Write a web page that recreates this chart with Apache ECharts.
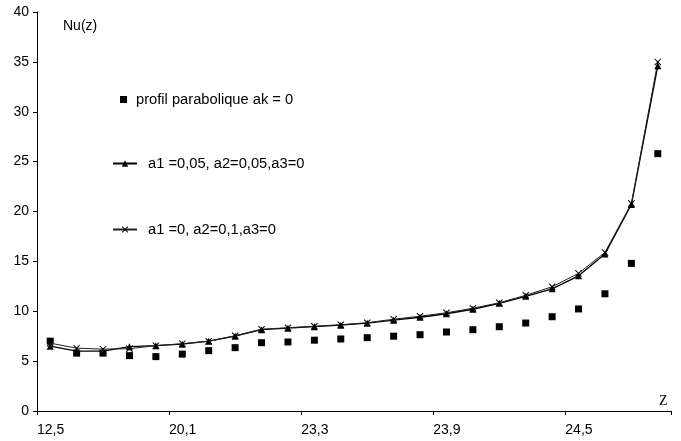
<!DOCTYPE html>
<html>
<head>
<meta charset="utf-8">
<script src="https://cdn.jsdelivr.net/npm/echarts@6/dist/echarts.min.js"></script>
<style>html,body{margin:0;padding:0;background:#fff;}#c{width:681px;height:441px;}</style>
</head>
<body>
<div id="c"></div>
<script>
// tick labels shown every 5 categories on the Z axis
var zTickLabels = ['12,5', '20,1', '23,3', '23,9', '24,5'];
var categories = ['12,5','','','','','20,1','','','','','23,3','','','','','23,9','','','','','24,5','','',''];

var seriesNames = ['profil parabolique ak = 0', 'a1 =0,05, a2=0,05,a3=0', 'a1 =0, a2=0,1,a3=0'];

var parabolic = [7.0, 5.8, 5.8, 5.55, 5.45, 5.7, 6.05, 6.35, 6.85, 6.92, 7.1, 7.22,
                 7.35, 7.5, 7.65, 7.92, 8.15, 8.45, 8.82, 9.45, 10.23, 11.75, 14.8, 25.8];
var triangleSeries = [6.5, 6.0, 6.0, 6.45, 6.55, 6.7, 7.0, 7.5, 8.15, 8.3, 8.45, 8.6,
                      8.8, 9.1, 9.4, 9.75, 10.2, 10.8, 11.5, 12.25, 13.55, 15.75, 20.7, 34.6];
var crossSeries = [6.8, 6.3, 6.2, 6.25, 6.55, 6.75, 7.0, 7.55, 8.2, 8.35, 8.5, 8.65,
                   8.85, 9.2, 9.5, 9.85, 10.3, 10.85, 11.6, 12.45, 13.8, 15.9, 20.8, 35.0];

var yTicks = {min: 0, max: 40, interval: 5};

var crossPath = 'path://M0,1L1,0L5,4L9,0L10,1L6,5L10,9L9,10L5,6L1,10L0,9L4,5Z';
var FONT = 'Liberation Sans';
var LEG_FS = 14.7;

var chart = echarts.init(document.getElementById('c'));
chart.setOption({
  animation: false,
  backgroundColor: '#fff',
  textStyle: {fontFamily: FONT, color: '#000'},
  grid: {left: 37, right: 10, top: 12, bottom: 30},
  legend: [
    {data: [seriesNames[0]], left: 120, top: 92, padding: 0, orient: 'vertical', icon: 'rect', itemWidth: 7, itemHeight: 7,
     textStyle: {fontFamily: FONT, fontSize: LEG_FS, color: '#000', padding: [0, 0, 0, 4]}},
    {data: [seriesNames[1]], left: 112, top: 156, padding: 0, orient: 'vertical', itemWidth: 24, itemHeight: 8,
     textStyle: {fontFamily: FONT, fontSize: LEG_FS, color: '#000', padding: [0, 0, 0, 6]}},
    {data: [seriesNames[2]], left: 112, top: 222, padding: 0, orient: 'vertical', itemWidth: 24, itemHeight: 8,
     textStyle: {fontFamily: FONT, fontSize: LEG_FS, color: '#000', padding: [0, 0, 0, 6]}}
  ],
  xAxis: [
    {type: 'category', data: categories, boundaryGap: true,
     axisLine: {lineStyle: {color: '#000', width: 1}},
     axisTick: {show: true, interval: 4, length: 4, lineStyle: {color: '#000'}},
     axisLabel: {show: false}, splitLine: {show: false}},
    {type: 'value', min: 0, max: categories.length, interval: 5, position: 'bottom',
     axisLine: {show: false}, axisTick: {show: false}, splitLine: {show: false},
     axisLabel: {show: true, align: 'left', margin: 12, fontSize: 14, color: '#000', fontFamily: FONT,
       formatter: function (v) { var i = v / 5; return zTickLabels[i] !== undefined && Number.isInteger(i) ? zTickLabels[i] : ''; }}}
  ],
  yAxis: {type: 'value', min: yTicks.min, max: yTicks.max, interval: yTicks.interval,
    axisLine: {show: true, lineStyle: {color: '#000', width: 1}},
    axisTick: {show: true, length: 4, lineStyle: {color: '#000'}},
    axisLabel: {fontSize: 14, color: '#000', margin: 8, fontFamily: FONT},
    splitLine: {show: false}},
  graphic: [
    {type: 'text', left: 63, top: 19, style: {text: 'Nu(z)', font: '14px "Liberation Sans"', fill: '#000'}},
    {type: 'text', left: 659, top: 394, style: {text: 'Z', font: '14px "Liberation Serif"', fill: '#000'}}
  ],
  series: [
    {name: seriesNames[0], type: 'scatter', xAxisIndex: 0, data: parabolic, symbol: 'rect', symbolSize: 7,
     itemStyle: {color: '#000', opacity: 1}},
    {name: seriesNames[1], type: 'line', xAxisIndex: 0, data: triangleSeries, symbol: 'triangle', symbolSize: 7,
     showAllSymbol: true, lineStyle: {color: '#000', width: 1.3}, itemStyle: {color: '#000'}},
    {name: seriesNames[2], type: 'line', xAxisIndex: 0, data: crossSeries, symbol: crossPath, symbolSize: 7,
     showAllSymbol: true, lineStyle: {color: '#222', width: 1}, itemStyle: {color: '#000'}}
  ]
});
</script>
</body>
</html>
